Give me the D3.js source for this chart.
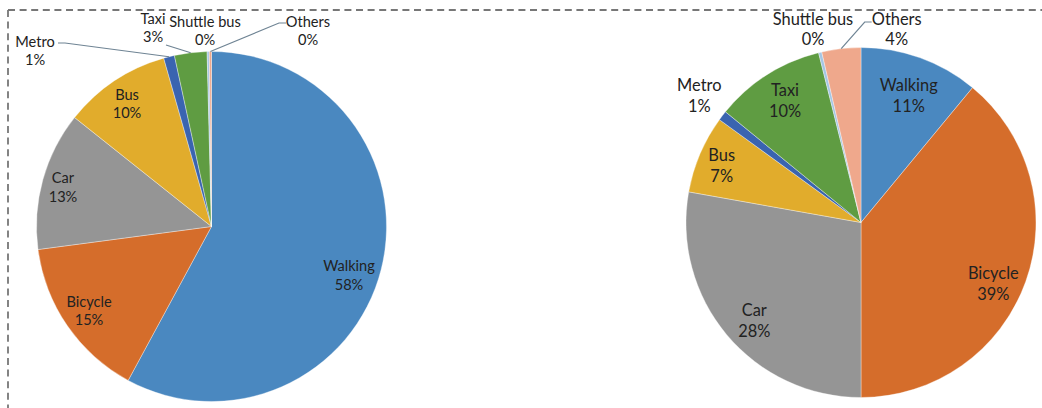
<!DOCTYPE html>
<html>
<head>
<meta charset="utf-8">
<script src="https://cdn.jsdelivr.net/npm/d3@7"></script>
<style>
  html, body { margin: 0; padding: 0; background: #fff; }
  svg { display: block; }
  text { font-family: Lato, "Open Sans", sans-serif; fill: #222; }
</style>
</head>
<body>
<svg id="chart" width="1042" height="408"></svg>
<script>
// Travel mode shares (percent), two surveys
const modes = ["Walking", "Bicycle", "Car", "Bus", "Metro", "Taxi", "Shuttle bus", "Others"];
const sharesA = [57.9, 15.0, 12.8, 9.9, 1.0, 3.0, 0.2, 0.2];
const sharesB = [11.0, 39.0, 27.8, 7.2, 0.9, 10.2, 0.3, 3.6];
const modeColors = ["#4a88c0", "#d56d2b", "#959595", "#e1ac2c", "#3a64b0", "#5f9c42", "#a5c6e4", "#efa88c"];

// Label placement, relative to each pie's centre
const labelLayoutA = [
  { dx: 137.5, dy: 49 },
  { dx: -122.5, dy: 84.5 },
  { dx: -148.5, dy: -39 },
  { dx: -84.5, dy: -122.5 },
  { dx: -176.5, dy: -175.5, leader: { ax: 23, ay: -8, elbow: 7 } },
  { dx: -58.5, dy: -198.5, leader: { ax: 13, ay: 17, elbow: 0 } },
  { dx: -6.5, dy: -195.5 },
  { dx: 96.5, dy: -195.5, leader: { ax: -22, ay: -8, elbow: -7 } }
];
const labelLayoutB = [
  { dx: 47.7, dy: -126.7 },
  { dx: 132.3, dy: 61.3 },
  { dx: -106.7, dy: 98.3 },
  { dx: -139.3, dy: -57 },
  { dx: -161.7, dy: -127 },
  { dx: -76, dy: -122 },
  { dx: -48, dy: -193.3 },
  { dx: 35.7, dy: -193.5, leader: { ax: -25, ay: -7, elbow: -7 } }
];

const svg = d3.select("#chart");

// Dashed frame along the top and left edges
const frame = svg.append("g")
  .attr("fill", "none")
  .attr("stroke", "#777")
  .attr("stroke-width", 1.8)
  .attr("stroke-dasharray", "7,4.6");
frame.append("line").attr("x1", 8).attr("y1", 10).attr("x2", 1042).attr("y2", 10);
frame.append("line").attr("x1", 8).attr("y1", 10).attr("x2", 8).attr("y2", 408);

const pct = v => d3.format(".0f")(v) + "%";

function drawPie(values, layout, cx, cy, radius, fontSize, lineGap) {
  const data = modes.map((m, i) => ({ mode: m, value: values[i], color: modeColors[i], layout: layout[i] }));
  const pie = d3.pie().value(d => d.value).sort(null);
  const arc = d3.arc().innerRadius(0).outerRadius(radius);
  const arcs = pie(data);

  const g = svg.append("g").attr("transform", `translate(${cx},${cy})`);

  g.selectAll("path.slice")
    .data(arcs)
    .join("path")
    .attr("class", "slice")
    .attr("d", arc)
    .attr("fill", d => d.data.color)
    .attr("stroke", "#ffffff")
    .attr("stroke-opacity", 0.7)
    .attr("stroke-width", 0.5);

  // Leader lines for the labels that sit outside the pie
  const leaderData = arcs.filter(d => d.data.layout.leader);
  g.selectAll("polyline.leader")
    .data(leaderData)
    .join("polyline")
    .attr("class", "leader")
    .attr("fill", "none")
    .attr("stroke", "#6f8494")
    .attr("stroke-width", 1.2)
    .attr("points", d => {
      const L = d.data.layout;
      const sx = L.dx + L.leader.ax, sy = L.dy + L.leader.ay;
      const mid = (d.startAngle + d.endAngle) / 2;
      const ex = Math.sin(mid) * radius, ey = -Math.cos(mid) * radius;
      return [[sx, sy], [sx + L.leader.elbow, sy], [ex, ey]].map(p => p.join(",")).join(" ");
    });

  const labels = g.selectAll("text.label")
    .data(arcs)
    .join("text")
    .attr("class", "label")
    .attr("text-anchor", "middle")
    .attr("font-size", fontSize)
    .attr("transform", d => `translate(${d.data.layout.dx},${d.data.layout.dy})`);
  labels.append("tspan")
    .attr("x", 0).attr("y", -lineGap / 2).attr("dy", "0.35em")
    .text(d => d.data.mode);
  labels.append("tspan")
    .attr("x", 0).attr("y", lineGap / 2).attr("dy", "0.35em")
    .text(d => pct(d.data.value));
}

drawPie(sharesA, labelLayoutA, 211.5, 226.5, 175, 14.6, 18.5);
drawPie(sharesB, labelLayoutB, 861, 222.5, 175, 16.4, 20.5);
</script>
</body>
</html>
